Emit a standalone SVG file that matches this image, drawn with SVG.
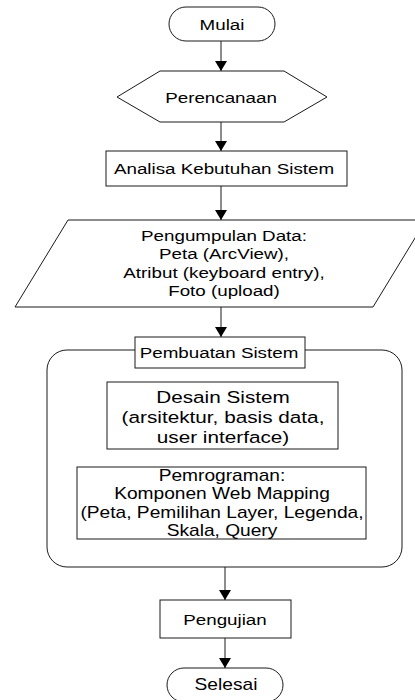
<svg xmlns="http://www.w3.org/2000/svg" width="415" height="700" viewBox="0 0 415 700">
<style>
.s{fill:#fff;stroke:#1a1a1a;stroke-width:1}
.c{stroke:#1a1a1a;stroke-width:1;fill:none}
text{font-family:"Liberation Sans",Arial,sans-serif;font-size:15.4px;fill:#000;text-anchor:middle}
.big{font-size:17px}
.med{font-size:15.7px}
</style>
<defs>
<marker id="ah" markerUnits="userSpaceOnUse" markerWidth="10" markerHeight="12" refX="10" refY="6" orient="auto">
<path d="M0,0 L10,6 L0,12 Z" fill="#000"/>
</marker>
</defs>
<rect width="415" height="700" fill="#fff"/>
<g id="container">
<rect class="s" x="47" y="350" width="355" height="217" rx="20"/>
</g>
<g id="connectors">
<line class="c" x1="221" y1="41" x2="221" y2="71" marker-end="url(#ah)"/>
<line class="c" x1="221" y1="122" x2="221" y2="151" marker-end="url(#ah)"/>
<line class="c" x1="221" y1="186" x2="221" y2="220" marker-end="url(#ah)"/>
<line class="c" x1="221" y1="307" x2="221" y2="337" marker-end="url(#ah)"/>
<line class="c" x1="225" y1="567" x2="225" y2="600" marker-end="url(#ah)"/>
<line class="c" x1="225" y1="638" x2="225" y2="668" marker-end="url(#ah)"/>
</g>
<g id="mulai">
<rect class="s" x="169" y="7" width="106" height="34" rx="17"/>
<text transform="matrix(1.22 0 0 1 222 30)">Mulai</text>
</g>
<g id="perencanaan">
<polygon class="s" points="117,97 160,71 284,71 327,97 284,122 160,122"/>
<text transform="matrix(1.22 0 0 1 221 103)">Perencanaan</text>
</g>
<g id="analisa">
<rect class="s" x="106" y="151" width="241" height="35"/>
<text transform="matrix(1.22 0 0 1 224 174)">Analisa Kebutuhan Sistem</text>
</g>
<g id="pengumpulan">
<polygon class="s" points="68,220 426,220 373,307 15,307"/>
<text transform="matrix(1.22 0 0 1 224 241)"><tspan x="0" y="0">Pengumpulan Data:</tspan><tspan x="0" y="18.3">Peta (ArcView),</tspan><tspan x="0" y="36.8">Atribut (keyboard entry),</tspan><tspan x="0" y="55.1">Foto (upload)</tspan></text>
</g>
<g id="pembuatan">
<rect class="s" x="135" y="337" width="170" height="31"/>
<text transform="matrix(1.22 0 0 1 219 358)">Pembuatan Sistem</text>
</g>
<g id="desain">
<rect class="s" x="107" y="382" width="231" height="67"/>
<text class="big" transform="matrix(1.22 0 0 1 223 403)"><tspan x="0" y="0">Desain Sistem</tspan><tspan x="0" y="20">(arsitektur, basis data,</tspan><tspan x="0" y="40">user interface)</tspan></text>
</g>
<g id="pemrograman">
<rect class="s" x="77" y="467" width="289" height="72"/>
<text class="med" transform="matrix(1.22 0 0 1 222 481)"><tspan x="0" y="0">Pemrograman:</tspan><tspan x="0" y="18.4">Komponen Web Mapping</tspan><tspan x="0" y="37">(Peta, Pemilihan Layer, Legenda,</tspan><tspan x="0" y="55.4">Skala, Query</tspan></text>
</g>
<g id="pengujian">
<rect class="s" x="160" y="600" width="131" height="38"/>
<text transform="matrix(1.22 0 0 1 225 625)">Pengujian</text>
</g>
<g id="selesai">
<rect class="s" x="167" y="668" width="116" height="34" rx="17"/>
<text class="med" transform="matrix(1.22 0 0 1 226 690)">Selesai</text>
</g>
</svg>
